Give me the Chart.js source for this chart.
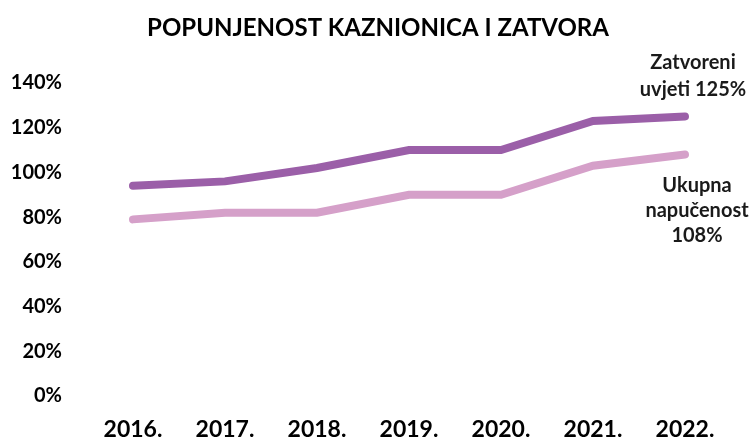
<!DOCTYPE html>
<html lang="hr">
<head>
    <meta charset="UTF-8">
    <title>Popunjenost kaznionica i zatvora</title>
    <script src="https://cdn.jsdelivr.net/npm/chart.js"></script>
    <style>
        body {
            margin: 0;
            padding: 0;
            background-color: #ffffff;
        }

        .chart-box {
            width: 756px;
            height: 441px;
        }
    </style>
</head>
<body>
    <div class="chart-box">
        <canvas id="popChart"></canvas>
    </div>

    <script>
        // Godine i postoci popunjenosti
        const years = ['2016.', '2017.', '2018.', '2019.', '2020.', '2021.', '2022.'];
        const zatvoreniUvjeti = [94, 96, 102, 110, 110, 123, 125];
        const ukupnaNapucenost = [79, 82, 82, 90, 90, 103, 108];
        const yTicks = [0, 20, 40, 60, 80, 100, 120, 140];

        const FONT = 'Lato, "Open Sans", sans-serif';
        const TITLE = 'POPUNJENOST KAZNIONICA I ZATVORA';

        // Naslov centriran na cijeloj sirini platna
        const titlePlugin = {
            id: 'centeredTitle',
            afterDraw(chart) {
                const ctx = chart.ctx;
                ctx.save();
                ctx.font = 'bold 24px ' + FONT;
                ctx.fillStyle = '#000000';
                ctx.textAlign = 'center';
                ctx.textBaseline = 'middle';
                ctx.fillText(TITLE, chart.width / 2, 28);
                ctx.restore();
            }
        };

        // Natpisi uz zadnju tocku svake linije
        const endLabels = {
            id: 'endLabels',
            afterDatasetsDraw(chart) {
                const ctx = chart.ctx;
                const notes = [
                    { ds: 0, dx: 8, lines: ['Zatvoreni', 'uvjeti ' + zatvoreniUvjeti[zatvoreniUvjeti.length - 1] + '%'], dy: [-54, -27] },
                    { ds: 1, dx: 12, lines: ['Ukupna', 'napučenost', ukupnaNapucenost[ukupnaNapucenost.length - 1] + '%'], dy: [31, 56, 81] }
                ];
                ctx.save();
                ctx.font = 'bold 20px ' + FONT;
                ctx.fillStyle = '#1a1a1a';
                ctx.textAlign = 'center';
                ctx.textBaseline = 'middle';
                notes.forEach(n => {
                    const pts = chart.getDatasetMeta(n.ds).data;
                    const last = pts[pts.length - 1];
                    n.lines.forEach((t, i) => ctx.fillText(t, last.x + n.dx, last.y + n.dy[i]));
                });
                ctx.restore();
            }
        };

        const ctx = document.getElementById('popChart').getContext('2d');
        new Chart(ctx, {
            type: 'line',
            data: {
                labels: years,
                datasets: [
                    {
                        label: 'Zatvoreni uvjeti',
                        data: zatvoreniUvjeti,
                        borderColor: '#9b5fa8',
                        borderWidth: 8,
                        borderCapStyle: 'round',
                        pointRadius: 0,
                        tension: 0
                    },
                    {
                        label: 'Ukupna napučenost',
                        data: ukupnaNapucenost,
                        borderColor: '#d5a0c9',
                        borderWidth: 8,
                        borderCapStyle: 'round',
                        pointRadius: 0,
                        tension: 0
                    }
                ]
            },
            options: {
                responsive: true,
                maintainAspectRatio: false,
                animation: false,
                layout: {
                    padding: { left: 0, right: 25, top: 83, bottom: 0 }
                },
                plugins: {
                    legend: { display: false },
                    tooltip: { enabled: false },
                    title: { display: false }
                },
                scales: {
                    x: {
                        offset: true,
                        grid: { display: false },
                        border: { display: false },
                        afterFit(scale) { scale.height = 45; },
                        ticks: {
                            color: '#000000',
                            padding: 12,
                            font: { family: FONT, size: 23, weight: 'bold' }
                        }
                    },
                    y: {
                        min: 0,
                        max: 140,
                        grid: { display: false },
                        border: { display: false },
                        afterFit(scale) { scale.width = 87; },
                        afterBuildTicks(scale) { scale.ticks = yTicks.map(v => ({ value: v })); },
                        ticks: {
                            color: '#000000',
                            padding: 17,
                            font: { family: FONT, size: 20, weight: 'bold' },
                            callback: v => v + '%'
                        }
                    }
                }
            },
            plugins: [endLabels, titlePlugin]
        });
    </script>
</body>
</html>
